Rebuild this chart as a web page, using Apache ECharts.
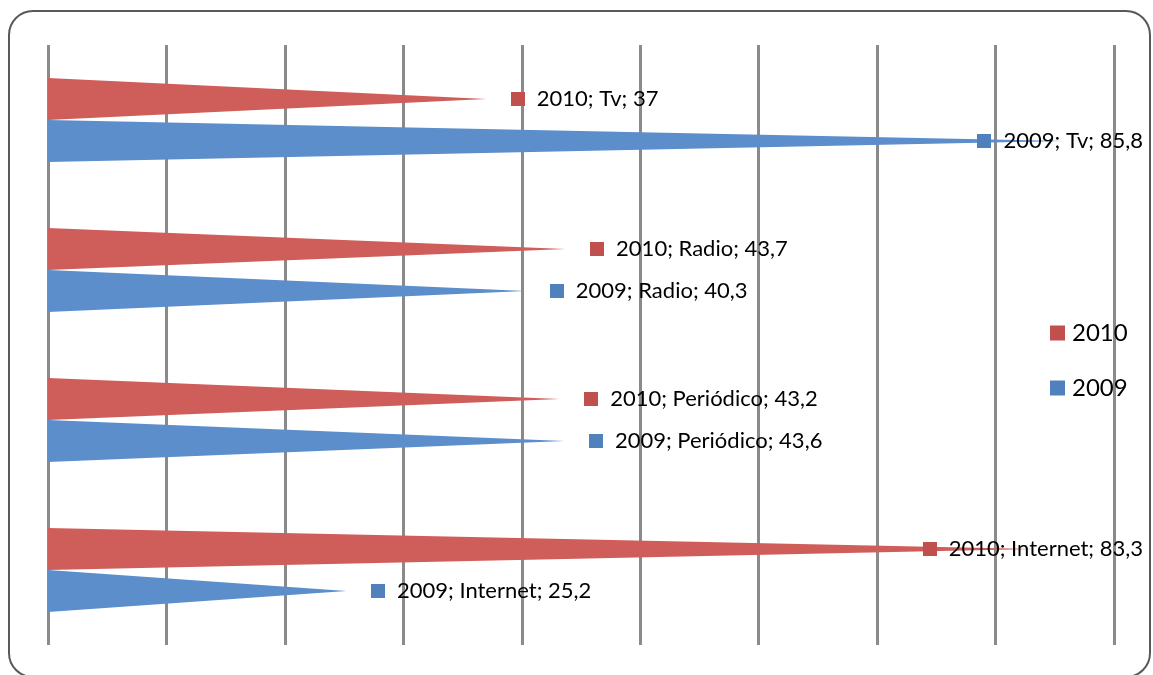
<!DOCTYPE html>
<html>
<head>
<meta charset="utf-8">
<script src="https://cdn.jsdelivr.net/npm/echarts@6/dist/echarts.min.js"></script>
<style>
  html, body { margin: 0; padding: 0; background: #ffffff; }
  #chart { width: 1153px; height: 675px; }
</style>
</head>
<body>
<div id="chart"></div>
<script>
// Media reach by year (cone bars)
const categories = ['Tv', 'Radio', 'Periódico', 'Internet'];
const seriesNames = ['2010', '2009'];
const values2010 = [37, 43.7, 43.2, 83.3];
const values2009 = [85.8, 40.3, 43.6, 25.2];
const axisMin = 0;
const axisMax = 90;
const axisStep = 10;

const coneColors = ['#CF5E5A', '#5B8ECB'];
const markColors = ['#C0504D', '#4F81BD'];
const labelFont = '22px Lato';
const labelRightLimit = 1143;

// text width helper for keeping labels inside the frame
const measureCtx = document.createElement('canvas').getContext('2d');
function textWidth(str, font) {
  measureCtx.font = font;
  return measureCtx.measureText(str).width;
}

function fmt(v) {
  return String(v).replace('.', ',');
}

function makeRender(sIdx) {
  return function (params, api) {
    const ci = api.value(1);
    const v = api.value(0);
    const base = api.coord([axisMin, ci]);
    const tip = api.coord([v, ci]);
    const band = api.size([0, 1])[1];
    const h = band * 0.28;
    const cy = base[1] + (sIdx === 0 ? -h / 2 : h / 2);
    const txt = seriesNames[sIdx] + '; ' + categories[ci] + '; ' + fmt(v);
    const tw = textWidth(txt, labelFont);
    const sx = Math.min(tip[0] + 24.5, labelRightLimit - tw - 26);
    return {
      type: 'group',
      children: [
        {
          type: 'polygon',
          z2: 1,
          shape: { points: [[base[0], cy - h / 2], [tip[0], cy], [base[0], cy + h / 2]] },
          style: { fill: coneColors[sIdx] }
        },
        {
          type: 'rect',
          z2: 10,
          shape: { x: Math.round(sx), y: Math.round(cy - 7), width: 14, height: 14 },
          style: { fill: markColors[sIdx] }
        },
        {
          type: 'text',
          z2: 10,
          style: {
            text: txt,
            x: sx + 26,
            y: cy,
            font: labelFont,
            fill: '#000000',
            textAlign: 'left',
            verticalAlign: 'middle'
          }
        }
      ]
    };
  };
}

const seriesValues = [values2010, values2009];

const chart = echarts.init(document.getElementById('chart'), null, { renderer: 'canvas' });
chart.setOption({
  animation: false,
  backgroundColor: '#ffffff',
  grid: { left: 48, right: 39, top: 45, bottom: 30, containLabel: false },
  xAxis: {
    type: 'value',
    min: axisMin,
    max: axisMax,
    interval: axisStep,
    axisLine: { show: false },
    axisTick: { show: false },
    axisLabel: { show: false },
    splitLine: { show: true, lineStyle: { color: '#8A8A8A', width: 3 } }
  },
  yAxis: {
    type: 'category',
    inverse: true,
    data: categories,
    axisLine: { show: false },
    axisTick: { show: false },
    axisLabel: { show: false },
    splitLine: { show: false }
  },
  legend: {
    orient: 'vertical',
    left: 1045,
    top: 316,
    itemWidth: 15,
    itemHeight: 15,
    itemGap: 31,
    icon: 'rect',
    selectedMode: false,
    textStyle: { fontFamily: 'Lato', fontSize: 24, color: '#000000', padding: [0, 0, 0, 2] },
    data: seriesNames.map((n, i) => ({ name: n, itemStyle: { color: markColors[i] } }))
  },
  graphic: [
    {
      type: 'rect',
      silent: true,
      z: 100,
      shape: { x: 9, y: 11, width: 1141, height: 666, r: 24 },
      style: { fill: 'none', stroke: '#595959', lineWidth: 2 }
    }
  ],
  series: seriesNames.map((n, i) => ({
    type: 'custom',
    name: n,
    itemStyle: { color: markColors[i] },
    renderItem: makeRender(i),
    encode: { x: 0, y: 1 },
    data: seriesValues[i].map((v, ci) => [v, ci])
  }))
});
</script>
</body>
</html>
